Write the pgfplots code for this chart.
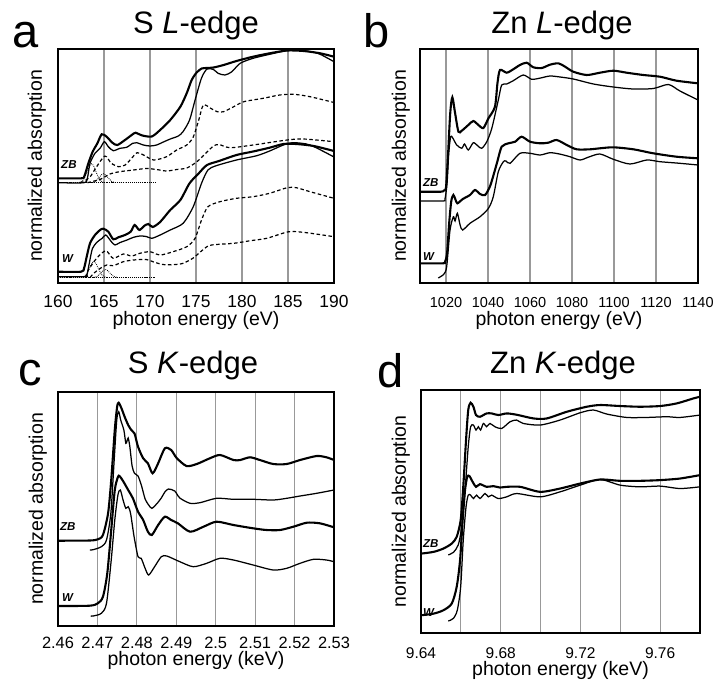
\documentclass[border=0pt]{standalone}
\usepackage{fontspec}
\setmainfont{Liberation Sans}
\usepackage{pgfplots}
\pgfplotsset{compat=1.18}
\definecolor{gridgray}{gray}{0.6}

\pgfplotsset{
  panel/.style={
    scale only axis, anchor=south west,
    ymin=0, ytick=\empty, no markers,
    axis line style={line width=1.6pt},
    major tick length=0pt, minor tick length=0pt,
    xmajorgrids, grid style={gridgray, line width=1.1pt},
    /pgf/number format/assume math mode=true,
    /pgf/number format/1000 sep={},
    every axis title/.style={at={(rel axis cs:0.5,1)}, anchor=base, inner sep=0pt,
      font=\fontsize{31}{31}\selectfont},
    every axis x label/.style={at={(rel axis cs:0.5,0)}, anchor=base, inner sep=0pt,
      font=\fontsize{19.5}{19.5}\selectfont},
    every axis y label/.style={at={(rel axis cs:0,0.5)}, rotate=90, anchor=south,
      inner xsep=0pt, font=\fontsize{19.5}{19.5}\selectfont},
    xticklabel style={anchor=base, inner sep=0pt},
    xlabel={photon energy (eV)}, ylabel={normalized absorption},
  },
  tickfont/.style={xticklabel style={font=\fontsize{#1}{#1}\selectfont}},
  thickln/.style={black, line width=2.1pt, smooth, tension=0.45},
  thinln/.style={black, line width=1.25pt, smooth, tension=0.45},
  dashln/.style={black, line width=1.2pt, dash pattern=on 3.5pt off 2.5pt, smooth, tension=0.45},
  dotln/.style={black, line width=0.8pt, dash pattern=on 0.8pt off 1.1pt, smooth, tension=0.45},
}
\tikzset{
  lab/.style={anchor=base west, inner sep=0pt, font=\fontsize{11.5}{11.5}\selectfont\bfseries\itshape},
  letter/.style={anchor=base west, inner sep=0pt, font=\fontsize{47}{47}\selectfont},
}

\begin{document}
\begin{tikzpicture}
\path[use as bounding box] (0pt,0pt) rectangle (717pt,-681pt);

% ---------- a: S L-edge ----------
\begin{axis}[panel, at={(58pt,-283pt)}, width=276pt, height=234pt,
  xmin=160, xmax=190, ymax=234, xtick={160,165,...,190},
  xticklabels={160,165,170,175,180,185,190},
  tickfont=17.4, xticklabel style={yshift=-24pt},
  title={S \textit{L}-edge}, title style={yshift=16pt},
  xlabel style={yshift=-42pt}, ylabel style={inner ysep=12pt}]
% ZB
\addplot[thickln] coordinates {(160,104.7) (162.5,104.7) (162.85,106.5) (163.3,119.7) (163.77,131.3) (164.28,139.7) (164.75,148.7) (165.29,146.3) (165.91,140.3) (166.45,138) (167.28,143) (168.01,148) (168.44,150.3) (169.09,147.7) (170.18,146.5) (171.1,153) (172.2,163) (173.3,176.3) (174.0,190) (174.53,203) (175.07,210.5) (175.62,214.5) (176.16,215) (176.9,215.5) (178.0,218) (179.4,222) (181.2,226.3) (183.0,229.7) (184.9,232.5) (186.7,232) (188.5,229.7) (190,226.3)};
\addplot[thinln] coordinates {(160,100.3) (162.8,100.3) (163.19,104.7) (163.48,119.7) (164.02,129.7) (164.57,134.7) (165.04,141.3) (165.47,136.3) (166.01,132.3) (166.74,134.7) (167.46,135.7) (168.12,139.7) (168.55,140.3) (169.28,138) (170.0,137) (170.72,138) (171.45,141) (172.2,144) (173.08,147) (173.6,151.5) (174.3,163) (174.9,183) (175.6,205) (176.2,214) (176.9,213.5) (177.4,209.7) (178.15,208) (178.9,211.3) (179.8,219.7) (181.2,224.7) (183.0,228.7) (184.9,232.5) (185.9,233) (187.4,231.5) (188.5,228.7) (190,221.3)};
\addplot[dashln] coordinates {(162.4,100.3) (162.75,101.3) (163.5,106.3) (164.2,116.3) (165.1,127) (165.8,119.7) (166.6,116.3) (167.3,118) (168.0,124.7) (168.6,130.3) (169.3,128) (170.4,123) (171.8,126.3) (172.9,133) (174.0,138) (174.7,146) (175.3,163) (175.8,178) (176.6,174.7) (177.3,171.3) (178.0,171.3) (179.1,176.3) (180.2,181.3) (182.3,184.7) (184.1,188) (185.6,188.7) (187.4,186.3) (190,180.5)};
\addplot[dashln] coordinates {(163.2,100.3) (164.6,103.7) (165.65,109) (166.7,111.3) (168.2,113) (169.6,114.5) (170.7,113.5) (171.8,112) (172.9,113.5) (174.0,115) (175.1,121.3) (176.2,131) (176.9,137) (177.5,138.5) (178.7,135.3) (181.2,138) (184.9,143) (186.7,144) (190,141.3)};
\addplot[dotln] coordinates {(160,100.3) (170.7,100.3)};
\addplot[dotln] coordinates {(162.3,100.5) (162.75,102.9) (163.2,111.8) (163.425,117.1) (163.65,119.3) (163.875,117.1) (164.1,111.8) (164.55,102.9) (165.0,100.5)};
\addplot[dotln] coordinates {(163.6,100.4) (164.05,101.5) (164.5,105.8) (164.725,108.2) (164.95,109.3) (165.175,108.2) (165.4,105.8) (165.85,101.5) (166.3,100.4)};
% W
\addplot[thickln] coordinates {(160,11.3) (162.5,11.3) (162.83,14.7) (163.12,26.3) (163.48,39.7) (164.02,48) (164.57,53) (164.93,54.3) (165.47,51.3) (166.01,43.7) (166.56,45.7) (167.28,48) (167.9,51.3) (168.33,58) (168.84,53) (169.35,57) (169.82,59) (170.29,56) (171.1,61) (172.2,73) (173.3,83) (174.3,99.7) (175.3,109.7) (176.2,118) (177.5,122) (179.4,128) (181.2,131.5) (183.0,135.3) (184.5,139) (185.9,139) (187.8,137) (190,132)};
\addplot[thinln] coordinates {(160,6.3) (163.0,6.3) (163.15,8) (163.4,19.7) (163.75,34.7) (164.3,41.3) (164.8,44.7) (165.2,48) (165.8,41.3) (166.2,38) (166.7,40.3) (167.5,43) (168.2,45.7) (168.9,47) (169.6,46.5) (170.2,44.7) (171.1,48) (172.2,53) (173.6,59.7) (174.7,76.3) (175.6,99.7) (176.3,113) (177.2,117.3) (179.4,123) (181.6,127.3) (183.0,132) (184.5,138) (185.6,140.3) (187.4,138) (190,126)};
\addplot[dashln] coordinates {(163.0,5.5) (163.3,13) (164.2,24.7) (165.2,32.3) (166.0,24.7) (167.1,29) (168.0,27) (168.9,29.7) (170.0,31.3) (171.1,28) (172.5,31.3) (174.0,36.3) (174.9,44.7) (175.6,63) (176.3,76.3) (177.6,81.3) (179.4,84.7) (181.2,86.3) (183,89.7) (184.9,95.3) (185.9,95.3) (187.4,91.3) (190,84.7)};
\addplot[dashln] coordinates {(163.5,5.5) (163.8,9) (164.6,14.7) (165.3,18) (166.0,17.3) (167.1,21.3) (168.2,23) (169.6,23.5) (170.4,21) (171.4,18.5) (172.5,18.3) (173.6,19.7) (174.7,25) (175.3,29.7) (176.3,37) (177.2,38.5) (179.1,39.7) (180.9,42.3) (182.7,44.7) (185.1,51.3) (187.0,50.3) (190,46.3)};
\addplot[dotln] coordinates {(160,5.5) (170.5,5.5)};
\addplot[dotln] coordinates {(162.55,5.7) (163.0,7.7) (163.45,15.2) (163.675,19.6) (163.9,21.5) (164.125,19.6) (164.35,15.2) (164.8,7.7) (165.25,5.7)};
\addplot[dotln] coordinates {(163.8,5.6) (164.25,6.6) (164.7,10.4) (164.925,12.6) (165.15,13.5) (165.375,12.6) (165.6,10.4) (166.05,6.6) (166.5,5.6)};
\node[lab] at (axis cs:160.33,115) {ZB};
\node[lab] at (axis cs:160.43,21) {W};
\end{axis}

% ---------- b: Zn L-edge ----------
\begin{axis}[panel, at={(420pt,-283pt)}, width=278pt, height=234pt,
  xmin=1007.6, xmax=1140, ymax=234, xtick={1020,1040,...,1140},
  xticklabels={1020,1040,1060,1080,1100,1120,1140},
  tickfont=14.5, xticklabel style={yshift=-24pt},
  title={Zn \textit{L}-edge}, title style={yshift=16pt, xshift=3pt},
  xlabel style={yshift=-42pt}, ylabel style={inner ysep=10pt}]
\addplot[thickln] coordinates {(1007.6,91.3) (1017.5,91.3) (1019,92.5) (1020,96) (1021,130) (1022,170) (1023,185.7) (1024.3,170) (1025.9,151.3) (1027.5,152.3) (1030.6,158) (1033,162) (1035.4,158) (1037.8,155) (1040.2,164.7) (1043.3,176.3) (1044.5,200) (1045.7,213) (1048.9,210.3) (1052,213.7) (1055.2,218) (1058.4,220.3) (1061.6,215.7) (1065.6,215) (1069.5,218.3) (1073.5,219.7) (1076.7,216.3) (1080.6,211.3) (1087,208) (1093.3,210.3) (1099.7,212.3) (1106,210.3) (1114,208) (1121.9,206.3) (1129.8,202.3) (1140,199.7)};
\addplot[thinln] coordinates {(1007.6,82) (1018.5,82) (1019.5,84) (1020.5,100) (1021.3,130) (1022.2,146.3) (1023.2,145) (1025.1,138) (1027.5,134.7) (1028.8,139) (1030.6,133) (1033,140.3) (1035.2,137) (1037,134.7) (1039.4,141.3) (1041.8,154.7) (1044.9,183) (1046.5,198) (1048.9,199) (1052,202.3) (1056.8,208) (1060.8,203.7) (1065,205) (1069.5,207) (1074.3,206) (1080.6,204) (1090.2,199) (1099.7,196) (1109.2,194) (1118.7,194.5) (1125.9,198.5) (1131.4,192) (1140,183)};
\addplot[thickln] coordinates {(1007.6,19.7) (1018.5,19.7) (1019.5,21) (1020.5,30) (1021.5,60) (1022.5,82) (1023.5,88) (1024.4,84) (1025.4,79.7) (1028,84) (1031.4,88) (1033.8,93) (1036.2,89) (1038.6,88) (1041,97) (1043.3,113) (1044.5,122) (1046.5,136.3) (1049.7,139.7) (1052.9,141.3) (1056,146.3) (1060,141.3) (1064.8,139.7) (1068.7,140.3) (1072.7,143) (1077.5,138) (1082.2,133.7) (1088.6,133.7) (1093.3,134.7) (1099.7,135.7) (1109.2,133.7) (1118.7,129.7) (1129.8,126.3) (1140,124.7)};
\addplot[thinln] coordinates {(1016.3,5) (1017.5,6.5) (1019,9) (1020.3,16.3) (1021.9,53) (1023.5,66.3) (1024.3,62) (1025.4,69.7) (1026.7,58) (1027.9,53) (1031.4,59.7) (1036.2,66.3) (1040.2,74.7) (1042.5,86.3) (1044.9,111.3) (1047.3,121.3) (1048.5,122) (1050.5,119.7) (1055.2,129.7) (1060,129.7) (1064.8,128) (1069.5,130.3) (1074,129) (1079,126.3) (1083.8,123) (1088,126) (1093.3,129) (1099.7,123.7) (1107.6,119) (1115.6,123) (1121.9,121.3) (1131.4,119.7) (1140,118)};
\node[lab] at (axis cs:1009,96.3) {ZB};
\node[lab] at (axis cs:1009,23) {W};
\end{axis}

% ---------- c: S K-edge ----------
\begin{axis}[panel, at={(58pt,-626pt)}, width=276pt, height=234pt,
  xmin=2.46, xmax=2.53, ymax=234,
  xtick={2.46,2.47,2.48,2.49,2.5,2.51,2.52,2.53},
  xticklabels={2.46,2.47,2.48,2.49,2.5,2.51,2.52,2.53},
  tickfont=16.4, xticklabel style={yshift=-22pt},
  title={S \textit{K}-edge}, title style={yshift=19pt, xshift=-3pt},
  xlabel={photon energy (keV)},
  xlabel style={yshift=-39pt}, ylabel style={inner ysep=11pt}]
\addplot[thickln] coordinates {(2.46,85.3) (2.468,85.5) (2.4701,86.7) (2.4714,91) (2.4727,112.7) (2.4735,146) (2.4744,196) (2.4750,219.3) (2.4754,223.3) (2.4761,217.7) (2.4769,209.3) (2.4778,201) (2.4786,196) (2.4794,192.7) (2.4803,179.3) (2.4816,167.7) (2.4828,162.7) (2.4840,152.7) (2.4854,162.7) (2.4871,177.7) (2.4887,176) (2.4901,168) (2.4926,160) (2.4952,162) (2.4985,167.7) (2.5011,171) (2.5045,166) (2.5062,166) (2.5087,168.7) (2.5112,166) (2.5146,162) (2.5180,162) (2.5214,166) (2.5256,170) (2.5281,168.7) (2.53,166)};
\addplot[thinln] coordinates {(2.4681,76) (2.4689,76.3) (2.4710,79.3) (2.4723,86) (2.4734,112.7) (2.4742,162.7) (2.4749,206) (2.4754,214.3) (2.4759,206) (2.4767,196) (2.4772,182.7) (2.4775,185) (2.4778,188) (2.4782,180) (2.4788,160) (2.4794,152.7) (2.4803,150) (2.4812,140) (2.4821,127) (2.4830,121) (2.4838,117.7) (2.4850,122) (2.4862,128) (2.4871,134) (2.4880,137) (2.4896,135) (2.4909,128) (2.4935,122.7) (2.4960,123.3) (2.5002,127.7) (2.5045,126.7) (2.5095,126.7) (2.5146,126) (2.5180,127.7) (2.5214,130) (2.5256,132.7) (2.53,136)};
\addplot[thickln] coordinates {(2.46,20) (2.468,20.3) (2.4701,22.7) (2.4714,29.3) (2.4725,52.7) (2.4735,96) (2.4744,136) (2.4752,149) (2.4756,150) (2.4765,145) (2.4778,136) (2.4790,127.7) (2.4803,114.3) (2.4816,106) (2.4828,94.3) (2.4838,91) (2.4854,101) (2.4871,109.3) (2.4887,106) (2.4904,102.7) (2.4935,94.3) (2.4969,99.3) (2.5002,104.3) (2.5045,101) (2.5095,97.7) (2.5129,96) (2.5163,96) (2.5197,99.3) (2.5231,103.3) (2.5264,102.7) (2.53,98.7)};
\addplot[thinln] coordinates {(2.4683,10) (2.4689,10) (2.4710,12.7) (2.4723,22.7) (2.4735,66) (2.4744,106) (2.4752,131) (2.4758,136) (2.4765,126) (2.4772,117.7) (2.4778,119.3) (2.4784,112.7) (2.4793,89.3) (2.4803,69.3) (2.4811,67.7) (2.4821,57.7) (2.4830,51) (2.4845,59.3) (2.4862,69.3) (2.4876,70) (2.4909,64.3) (2.4943,59.3) (2.4977,62.7) (2.5011,67.7) (2.5045,66) (2.5095,61) (2.5146,56) (2.5180,57.7) (2.5214,62.7) (2.5248,66.7) (2.5281,66) (2.53,64.3)};
\node[lab] at (axis cs:2.4605,96) {ZB};
\node[lab] at (axis cs:2.4610,24.3) {W};
\end{axis}

% ---------- d: Zn K-edge ----------
\begin{axis}[panel, at={(421pt,-633pt)}, width=279pt, height=243pt,
  xmin=9.64, xmax=9.78, ymax=242.7,
  xtick={9.64,9.68,9.72,9.76}, xticklabels={9.64,9.68,9.72,9.76},
  minor xtick={9.66,9.70,9.74}, xminorgrids,
  tickfont=15.5, xticklabel style={yshift=-25pt},
  title={Zn \textit{K}-edge}, title style={yshift=17pt, xshift=2.5pt},
  xlabel={photon energy (keV)},
  xlabel style={yshift=-42pt}, ylabel style={inner ysep=11pt}]
\addplot[thickln] coordinates {(9.64,79.3) (9.6462,81) (9.6512,84.3) (9.6554,89.3) (9.6579,96) (9.6599,112.7) (9.6612,146) (9.6626,192.7) (9.6637,222.7) (9.6649,230) (9.6663,226) (9.6676,217.7) (9.6696,216) (9.6729,219.3) (9.6755,219.3) (9.6788,217.7) (9.6830,219.3) (9.6880,218) (9.6965,214.3) (9.7031,214.3) (9.7132,221) (9.7232,226) (9.7299,227.7) (9.7399,226.7) (9.7499,226) (9.7600,226.7) (9.7683,229.3) (9.7767,234.3) (9.78,236)};
\addplot[thinln] coordinates {(9.6537,78) (9.6562,80.5) (9.6587,88) (9.6604,106) (9.6621,142.7) (9.6637,186) (9.6649,206) (9.6663,207.7) (9.6676,202.7) (9.6688,206) (9.6699,202.7) (9.6713,209.3) (9.6729,206) (9.6746,209.3) (9.6771,206) (9.6805,204.3) (9.6847,211) (9.6880,212.7) (9.6913,209.3) (9.6998,207.7) (9.7098,212.7) (9.7199,220) (9.7265,222.7) (9.7332,218.7) (9.7432,215.3) (9.7533,215.3) (9.7633,216) (9.7700,215.3) (9.78,217.7)};
\addplot[thickln] coordinates {(9.64,17.7) (9.6462,19.3) (9.6512,22.7) (9.6554,29.3) (9.6579,46) (9.6596,72.7) (9.6609,112.7) (9.6621,142.7) (9.6632,156) (9.6643,156.7) (9.6659,151) (9.6676,146) (9.6696,148.7) (9.6729,146) (9.6763,146.7) (9.6796,145.3) (9.6830,146) (9.6898,146) (9.6998,141) (9.7098,144.3) (9.7199,149.3) (9.7299,153.3) (9.7399,152) (9.7499,152) (9.7600,152.7) (9.7700,154.3) (9.78,157.7)};
\addplot[thinln] coordinates {(9.6537,12) (9.6562,14.5) (9.6582,22.7) (9.6599,46) (9.6612,92.7) (9.6626,126) (9.6637,137.7) (9.6649,137.7) (9.6663,134.3) (9.6679,137.7) (9.6696,134.3) (9.6721,139.3) (9.6738,136) (9.6755,137.7) (9.6788,134.3) (9.6830,136) (9.6880,139.3) (9.6998,136) (9.7098,141) (9.7199,147.7) (9.7299,153.3) (9.7399,147.7) (9.7499,146) (9.7600,146.7) (9.7700,144.3) (9.78,146)};
\node[lab] at (axis cs:9.641,85.3) {ZB};
\node[lab] at (axis cs:9.641,16) {W};
\end{axis}

\node[letter] at (12pt,-47pt) {a};
\node[letter] at (363pt,-47pt) {b};
\node[letter] at (18pt,-385pt) {c};
\node[letter] at (377pt,-387pt) {d};
\end{tikzpicture}
\end{document}
